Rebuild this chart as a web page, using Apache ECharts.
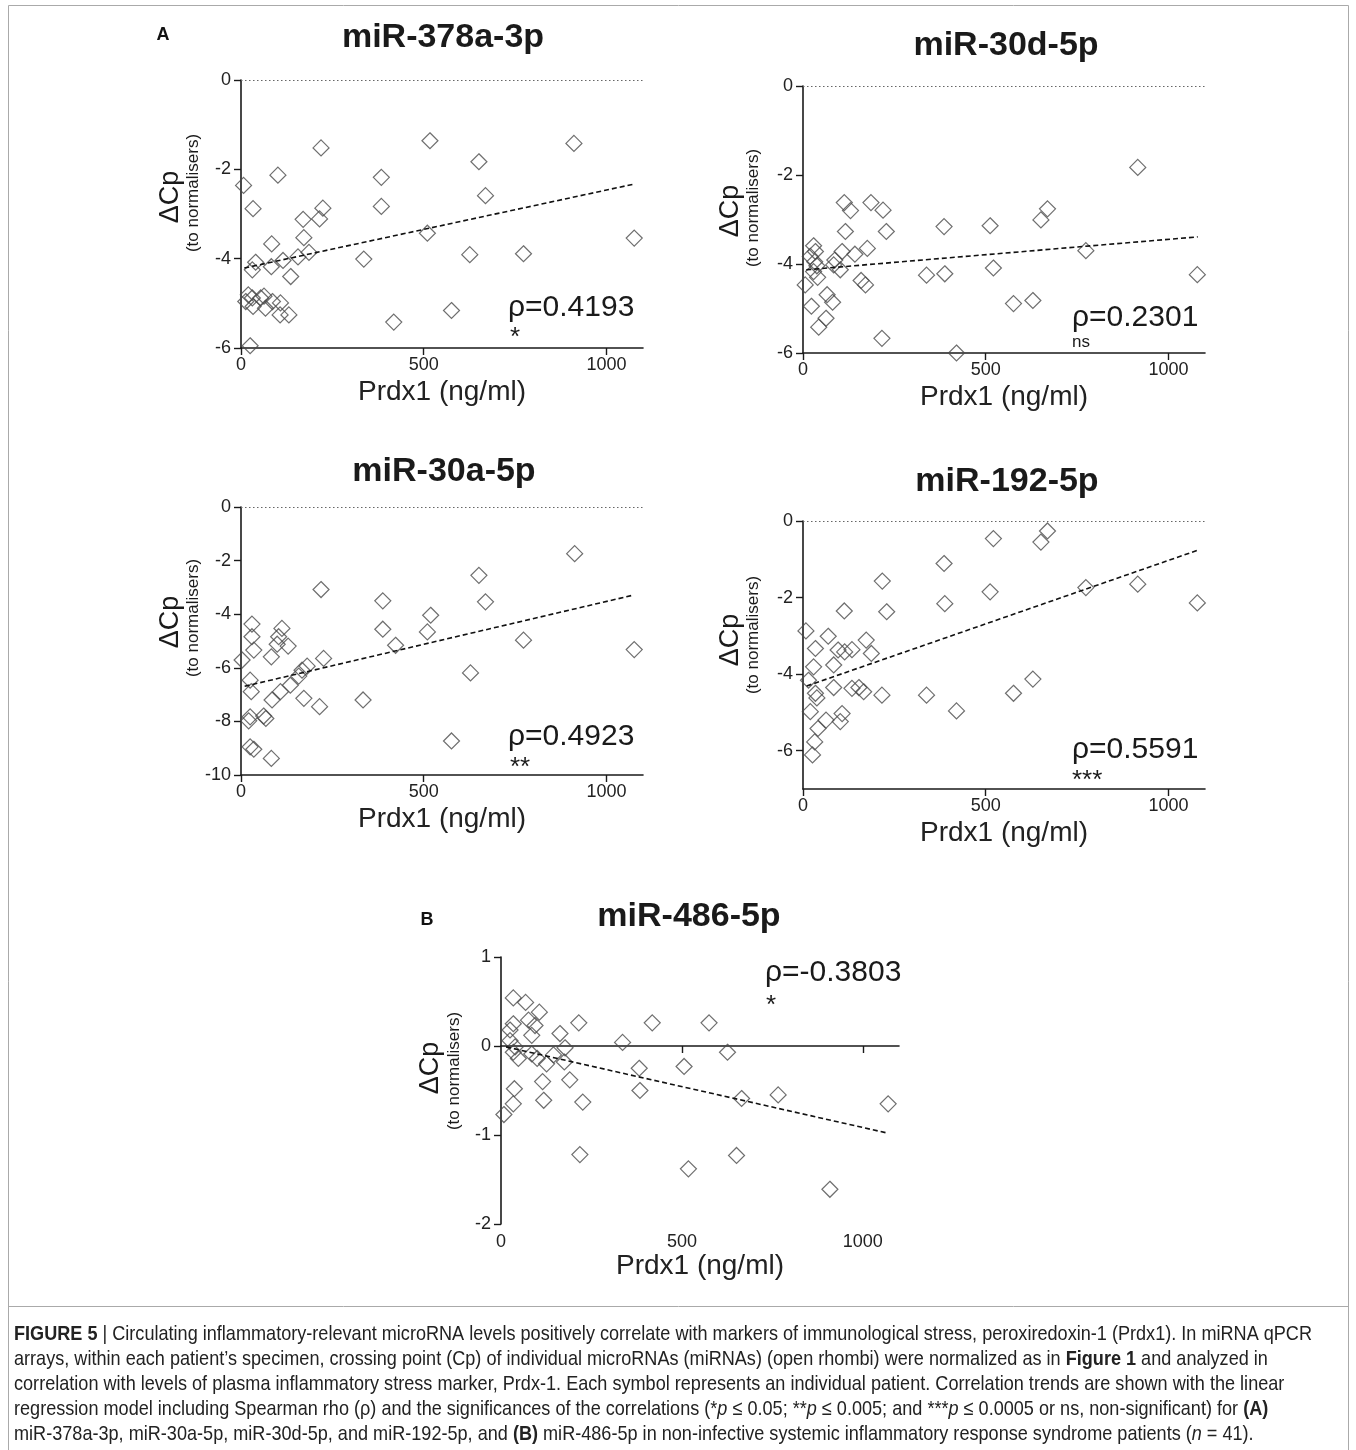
<!DOCTYPE html>
<html><head><meta charset="utf-8">
<script src="https://cdn.jsdelivr.net/npm/echarts@6/dist/echarts.min.js"></script>
<style>html,body{margin:0;padding:0;background:#fff}#c{width:1356px;height:1450px}</style>
</head><body><div id="c"></div>
<script>
// ---------------- DATA ----------------
const panelTitles = ['miR-378a-3p', 'miR-30d-5p', 'miR-30a-5p', 'miR-192-5p', 'miR-486-5p'];
const rhoLabels = ['ρ=0.4193', 'ρ=0.2301', 'ρ=0.4923', 'ρ=0.5591', 'ρ=-0.3803'];
const sigLabels = ['*', 'ns', '**', '***', '*'];
const xName = 'Prdx1 (ng/ml)';
const yName = 'ΔCp';
const ySubName = '(to normalisers)';
const xTickValues = [0, 500, 1000];
const yTicks378 = [0, -2, -4, -6];
const yTicks30d = [0, -2, -4, -6];
const yTicks30a = [0, -2, -4, -6, -8, -10];
const yTicks192 = [0, -2, -4, -6];
const yTicks486 = [1, 0, -1, -2];

// [Prdx1 ng/ml, dCp]
const mir378 = [[7,-2.36],[33,-2.88],[101,-2.13],[219,-1.52],[224,-2.87],[170,-3.12],[215,-3.11],[172,-3.53],[84,-3.67],[186,-3.86],[156,-3.96],[115,-4.04],[83,-4.18],[40,-4.08],[31,-4.25],[136,-4.40],[20,-4.81],[31,-4.88],[13,-4.96],[33,-5.07],[54,-4.88],[63,-4.84],[67,-5.11],[86,-4.96],[108,-4.99],[107,-5.26],[131,-5.26],[25,-5.95],[336,-4.01],[384,-2.18],[384,-2.83],[418,-5.42],[510,-3.43],[517,-1.36],[576,-5.16],[626,-3.91],[651,-1.83],[669,-2.59],[773,-3.89],[911,-1.42],[1076,-3.54]];
const mir30d = [[916,-1.83],[669,-2.76],[651,-3.01],[512,-3.14],[386,-3.16],[774,-3.70],[1079,-4.24],[521,-4.09],[338,-4.25],[388,-4.22],[576,-4.89],[629,-4.82],[420,-6.0],[216,-5.67],[186,-2.62],[219,-2.79],[228,-3.27],[113,-2.62],[130,-2.80],[116,-3.27],[176,-3.65],[142,-3.78],[159,-4.37],[171,-4.47],[107,-3.72],[87,-3.91],[102,-4.13],[84,-4.02],[66,-4.69],[81,-4.86],[63,-5.22],[43,-5.42],[23,-4.95],[6,-4.47],[29,-3.59],[34,-3.72],[20,-3.83],[32,-3.95],[38,-4.04],[29,-4.17],[40,-4.30]];
const mir30a = [[219,-3.08],[388,-3.50],[388,-4.56],[423,-5.16],[519,-4.04],[510,-4.66],[334,-7.20],[576,-8.73],[628,-6.19],[651,-2.55],[669,-3.54],[773,-4.97],[913,-1.74],[1076,-5.32],[226,-5.65],[215,-7.45],[172,-7.14],[30,-4.37],[112,-4.53],[30,-4.84],[103,-4.84],[129,-5.19],[35,-5.34],[99,-5.12],[83,-5.59],[3,-5.71],[25,-6.46],[28,-6.89],[181,-5.94],[167,-6.09],[158,-6.31],[135,-6.65],[108,-6.89],[85,-7.20],[25,-7.83],[21,-7.98],[62,-7.80],[68,-7.89],[25,-8.95],[35,-9.04],[83,-9.38]];
const mir192 = [[669,-0.26],[651,-0.55],[521,-0.46],[386,-1.11],[217,-1.57],[512,-1.85],[774,-1.74],[916,-1.65],[1079,-2.14],[388,-2.16],[229,-2.37],[113,-2.35],[338,-4.55],[420,-4.96],[576,-4.50],[629,-4.13],[216,-4.55],[8,-2.87],[69,-3.01],[173,-3.11],[34,-3.33],[96,-3.37],[114,-3.42],[134,-3.36],[187,-3.46],[84,-3.76],[29,-3.81],[15,-4.16],[84,-4.35],[34,-4.50],[134,-4.37],[153,-4.35],[166,-4.46],[20,-4.98],[63,-5.20],[107,-5.03],[102,-5.24],[41,-5.42],[32,-5.77],[26,-6.11],[38,-4.62]];
const mir486 = [[215,0.26],[418,0.26],[575,0.26],[336,0.04],[626,-0.07],[506,-0.23],[382,-0.25],[384,-0.50],[665,-0.59],[766,-0.55],[1070,-0.65],[226,-0.63],[218,-1.22],[518,-1.38],[651,-1.23],[909,-1.61],[34,0.54],[68,0.49],[106,0.38],[34,0.25],[76,0.29],[94,0.23],[25,0.18],[85,0.12],[163,0.14],[25,0.06],[39,-0.01],[34,-0.07],[48,-0.14],[177,-0.02],[85,-0.09],[100,-0.14],[126,-0.20],[145,-0.10],[175,-0.18],[190,-0.38],[115,-0.40],[37,-0.48],[118,-0.61],[34,-0.65],[8,-0.77]];

// regression line end points
const trend378 = [[9,-4.21],[1076,-2.33]];
const trend30d = [[9,-4.13],[1080,-3.39]];
const trend30a = [[10,-6.69],[1073,-3.29]];
const trend192 = [[10,-4.31],[1078,-0.77]];
const trend486 = [[14,-0.01],[1070,-0.98]];

const captionLines = [
  '{b|FIGURE 5} | Circulating inflammatory-relevant microRNA levels positively correlate with markers of immunological stress, peroxiredoxin-1 (Prdx1). In miRNA qPCR',
  'arrays, within each patient\u2019s specimen, crossing point (Cp) of individual microRNAs (miRNAs) (open rhombi) were normalized as in {b|Figure 1} and analyzed in',
  'correlation with levels of plasma inflammatory stress marker, Prdx-1. Each symbol represents an individual patient. Correlation trends are shown with the linear',
  'regression model including Spearman rho (\u03c1) and the significances of the correlations (*{i|p} \u2264 0.05; **{i|p} \u2264 0.005; and ***{i|p} \u2264 0.0005 or ns, non-significant) for {b|(A)}',
  'miR-378a-3p, miR-30a-5p, miR-30d-5p, and miR-192-5p, and {b|(B)} miR-486-5p in non-infective systemic inflammatory response syndrome patients ({i|n} = 41).'
];

// ---------------- LAYOUT ----------------
const FONT = '"Liberation Sans", Arial, sans-serif';
const CAPFONT = '"Liberation Sans", Arial, sans-serif';
const CAPSIZE = 21;
const panels = [
  {data: mir378, trend: trend378, yMin: -6, yMax: 0, yTicks: yTicks378, grid: {left: 241, top: 80, width: 402, height: 268},
   title: [443, 38], rho: [508, 308], sig: [510, 325], yn: [171, 197], ysn: [193, 193]},
  {data: mir30d, trend: trend30d, yMin: -6, yMax: 0, yTicks: yTicks30d, grid: {left: 803, top: 86, width: 402, height: 267},
   title: [1006, 46], rho: [1072, 318], sig: [1072, 342], yn: [731, 211], ysn: [753, 208]},
  {data: mir30a, trend: trend30a, yMin: -10, yMax: 0, yTicks: yTicks30a, grid: {left: 241, top: 507, width: 402, height: 268},
   title: [444, 472], rho: [508, 737], sig: [510, 755], yn: [171, 622], ysn: [193, 618]},
  {data: mir192, trend: trend192, yMin: -7, yMax: 0, yTicks: yTicks192, grid: {left: 803, top: 521, width: 402, height: 268},
   title: [1007, 482], rho: [1072, 750], sig: [1072, 768], yn: [731, 640], ysn: [753, 635]},
  {data: mir486, trend: trend486, yMin: -2, yMax: 1, yTicks: yTicks486, grid: {left: 501, top: 957, width: 398, height: 267},
   title: [689, 917], rho: [765, 973], sig: [766, 993], yn: [431, 1068], ysn: [454, 1071]}
];

const fmt = v => String(v);
const grids = [], xAxes = [], yAxes = [], series = [], graphics = [];
const axisLineStyle = {color: '#1a1a1a', width: 1.6};
panels.forEach((p, i) => {
  grids.push(Object.assign({}, p.grid));
  const isB = i === 4;
  xAxes.push({
    type: 'value', gridIndex: i, min: 0, max: 1100, position: 'bottom',
    axisLine: {show: true, onZero: isB, lineStyle: axisLineStyle},
    axisTick: {show: true, length: 7, inside: false, customValues: isB ? [500, 1000] : xTickValues, lineStyle: {color: '#1a1a1a', width: 1.4}},
    axisLabel: {show: !isB, customValues: xTickValues, formatter: fmt, fontSize: 18, color: '#222', fontFamily: FONT, margin: 8},
    splitLine: {show: false},
    name: isB ? '' : xName, nameLocation: 'middle', nameGap: 30,
    nameTextStyle: {fontSize: 28, color: '#222', fontFamily: FONT}
  });
  yAxes.push({
    type: 'value', gridIndex: i, min: p.yMin, max: p.yMax,
    axisLine: {show: true, onZero: false, lineStyle: axisLineStyle},
    axisTick: {show: true, length: 7, customValues: p.yTicks, lineStyle: {color: '#1a1a1a', width: 1.4}},
    axisLabel: {customValues: p.yTicks, formatter: fmt, fontSize: 18, color: '#222', fontFamily: FONT, margin: 10},
    splitLine: {show: false}
  });
});
// extra labelled x axis for panel B (its axis line sits on zero)
xAxes.push({
  type: 'value', gridIndex: 4, min: 0, max: 1100, position: 'bottom',
  axisLine: {show: false, onZero: false}, axisTick: {show: false},
  axisLabel: {customValues: xTickValues, formatter: fmt, fontSize: 18, color: '#222', fontFamily: FONT, margin: 9},
  splitLine: {show: false},
  name: xName, nameLocation: 'middle', nameGap: 26,
  nameTextStyle: {fontSize: 28, color: '#222', fontFamily: FONT}
});

panels.forEach((p, i) => {
  const xi = i === 4 ? 5 : i;
  series.push({
    type: 'scatter', xAxisIndex: xi, yAxisIndex: i, data: p.data,
    symbol: 'diamond', symbolSize: 16,
    itemStyle: {color: 'rgba(255,255,255,0)', borderColor: '#4a4a4a', borderWidth: 1.2},
    markLine: i === 4 ? undefined : {
      silent: true, symbol: 'none', label: {show: false},
      lineStyle: {type: [1.5, 2.5], color: '#666', width: 1.2},
      data: [{yAxis: 0}]
    },
    z: 2
  });
  series.push({
    type: 'line', xAxisIndex: xi, yAxisIndex: i, data: p.trend,
    showSymbol: false, symbol: 'none',
    lineStyle: {type: [5, 3], color: '#111', width: 1.6}, z: 3
  });
  graphics.push({type: 'text', x: p.title[0], y: p.title[1],
    style: {text: panelTitles[i], font: 'bold 34px ' + FONT, fill: '#1a1a1a', align: 'center', verticalAlign: 'middle'}});
  graphics.push({type: 'text', x: p.rho[0], y: p.rho[1],
    style: {text: rhoLabels[i], font: '30px ' + FONT, fill: '#1a1a1a', align: 'left', verticalAlign: 'middle'}});
  const isNs = sigLabels[i] === 'ns';
  graphics.push({type: 'text', x: p.sig[0], y: p.sig[1],
    style: {text: sigLabels[i], font: (isNs ? '17px ' : '26px ') + FONT, fill: '#1a1a1a', align: 'left', verticalAlign: isNs ? 'middle' : 'top'}});
  graphics.push({type: 'text', x: p.yn[0], y: p.yn[1], rotation: Math.PI / 2,
    style: {text: yName, font: '27px ' + FONT, fill: '#1a1a1a', align: 'center', verticalAlign: 'middle'}});
  graphics.push({type: 'text', x: p.ysn[0], y: p.ysn[1], rotation: Math.PI / 2,
    style: {text: ySubName, font: '17px ' + FONT, fill: '#1a1a1a', align: 'center', verticalAlign: 'middle'}});
});

graphics.push({type: 'text', x: 163, y: 35, style: {text: 'A', font: 'bold 18px ' + FONT, fill: '#111', align: 'center', verticalAlign: 'middle'}});
graphics.push({type: 'text', x: 427, y: 920, style: {text: 'B', font: 'bold 18px ' + FONT, fill: '#111', align: 'center', verticalAlign: 'middle'}});
// frame
graphics.push({type: 'rect', shape: {x: 8.5, y: 5.5, width: 1340, height: 1301}, style: {fill: 'none', stroke: '#aaa', lineWidth: 1}});
graphics.push({type: 'line', shape: {x1: 8.5, y1: 1306, x2: 8.5, y2: 1450}, style: {stroke: '#aaa', lineWidth: 1}});
graphics.push({type: 'line', shape: {x1: 1348.5, y1: 1306, x2: 1348.5, y2: 1450}, style: {stroke: '#aaa', lineWidth: 1}});

// caption: condensed look by horizontal scaling so that the first line spans the figure width
const mctx = document.createElement('canvas').getContext('2d');
function richWidth(line) {
  let w = 0; const re = /\{(\w)\|([^}]*)\}|([^{]+)/g; let m;
  while ((m = re.exec(line))) {
    if (m[3] !== undefined) { mctx.font = CAPSIZE + 'px ' + CAPFONT; w += mctx.measureText(m[3]).width; }
    else { mctx.font = (m[1] === 'b' ? 'bold ' : 'italic ') + CAPSIZE + 'px ' + CAPFONT; w += mctx.measureText(m[2]).width; }
  }
  return w;
}
const capScale = 1298 / richWidth(captionLines[0]);
captionLines.forEach((t, k) => {
  graphics.push({type: 'text', x: 14, y: 1334 + k * 25, scaleX: capScale,
    style: {text: t, font: CAPSIZE + 'px ' + CAPFONT, fill: '#222', align: 'left', verticalAlign: 'middle',
      rich: {b: {font: 'bold ' + CAPSIZE + 'px ' + CAPFONT, fill: '#222'}, i: {font: 'italic ' + CAPSIZE + 'px ' + CAPFONT, fill: '#222'}}}});
});

const chart = echarts.init(document.getElementById('c'), null, {renderer: 'canvas'});
chart.setOption({
  animation: false,
  backgroundColor: '#fff',
  textStyle: {fontFamily: FONT},
  grid: grids, xAxis: xAxes, yAxis: yAxes, series: series, graphic: graphics
});
</script></body></html>
